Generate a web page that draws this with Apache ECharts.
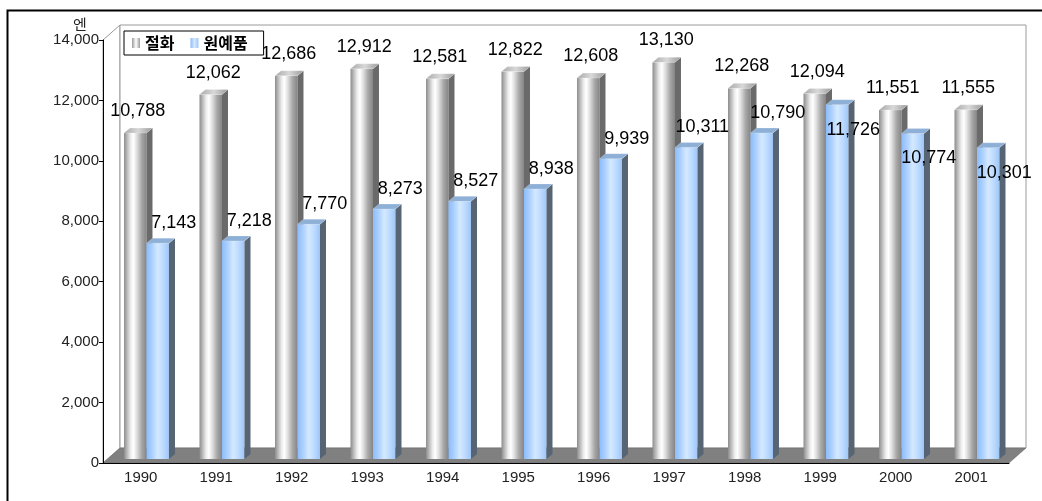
<!DOCTYPE html>
<html><head><meta charset="utf-8">
<script src="https://cdn.jsdelivr.net/npm/echarts@6/dist/echarts.min.js"></script>
<style>html,body{margin:0;padding:0;background:#fff}#c{width:1042px;height:501px}</style>
</head><body><div id="c"></div>
<script>
// ---- data ----
const years = ['1990','1991','1992','1993','1994','1995','1996','1997','1998','1999','2000','2001'];
const cutFlowers = [10788,12062,12686,12912,12581,12822,12608,13130,12268,12094,11551,11555];
const horticulture = [7143,7218,7770,8273,8527,8938,9939,10311,10790,11726,10774,10301];
const seriesNames = ['절화','원예품'];
const yUnit = '엔';
const yMin = 0, yMax = 14000, yStep = 2000;

// ---- styling ----
const WALL_DX = 17, WALL_DY = 15;
const BAR_DX = 0, BAR_DY = 4;
const SIDE_DX = 6, SIDE_DY = 5;
const LG = echarts.graphic.LinearGradient;
const silverFront = new LG(0,0,1,0,[
  {offset:0,color:'#8c8c8c'},{offset:0.12,color:'#b4b4b4'},{offset:0.3,color:'#eeeeee'},
  {offset:0.42,color:'#ffffff'},{offset:0.58,color:'#dcdcdc'},{offset:0.78,color:'#a8a8a8'},{offset:1,color:'#858585'}]);
const blueFront = new LG(0,0,1,0,[
  {offset:0,color:'#8bbcfb'},{offset:0.25,color:'#acd0ff'},{offset:0.5,color:'#d4e9ff'},
  {offset:0.75,color:'#bcdaff'},{offset:1,color:'#9ec6f6'}]);
const styles = [
  {front: silverFront, side:'#6a6a6a', top: new LG(0,0,1,0,[{offset:0,color:'#a8a8a8'},{offset:0.5,color:'#d8d8d8'},{offset:1,color:'#9a9a9a'}]), legend: new LG(0,0,1,0,[{offset:0,color:'#9a9a9a'},{offset:0.5,color:'#ffffff'},{offset:1,color:'#9a9a9a'}])},
  {front: blueFront, side:'#566474', top:'#8eb0d6', legend: new LG(0,0,1,0,[{offset:0,color:'#8bbcfb'},{offset:0.5,color:'#d4e9ff'},{offset:1,color:'#9ec6f6'}])}
];
const fmt = v => Number(v).toLocaleString('en-US');
const LABEL_FONT = '18px "Liberation Sans", Arial, sans-serif';

function barRender(slot){
  return function(params, api){
    const i = api.value(0), v = api.value(1), other = api.value(2);
    const base = api.coord([i, 0]), top = api.coord([i, v]);
    const band = api.size([1, 0])[0];
    const w = band * 0.298;
    const x0 = base[0] - band * 0.222 + slot * w + BAR_DX;
    const yb = base[1] - BAR_DY, yt = top[1] - BAR_DY;
    const st = styles[slot];
    let lx, ly;
    if (slot === 0) { lx = base[0] - 3; ly = yt - 22; }
    else {
      lx = base[0] + 33;
      ly = (other - v < 1300) ? yt + 25 : yt - 20;
    }
    return {
      type:'group',
      children:[
        {type:'rect', shape:{x:x0, y:yt, width:w, height:yb-yt}, style:{fill:st.front}},
        {type:'polygon', shape:{points:[[x0+w,yt],[x0+w+SIDE_DX,yt-SIDE_DY],[x0+w+SIDE_DX,yb-SIDE_DY],[x0+w,yb]]}, style:{fill:st.side}},
        {type:'polygon', shape:{points:[[x0,yt],[x0+SIDE_DX,yt-SIDE_DY],[x0+w+SIDE_DX,yt-SIDE_DY],[x0+w,yt]]}, style:{fill:st.top, stroke:'rgba(255,255,255,0.4)', lineWidth:0.5}},
        {type:'text', z2:100, style:{text:fmt(v), x:lx, y:ly, align:'center', verticalAlign:'middle', font:LABEL_FONT, fill:'#000'}}
      ]
    };
  };
}

function frameRender(params, api){
  const cs = params.coordSys;
  const gx = cs.x, gy = cs.y, gw = cs.width, gh = cs.height;
  const bx = gx + WALL_DX, by = gy - WALL_DY;
  return {
    type:'group',
    children:[
      {type:'polygon', shape:{points:[[gx,gy],[bx,by],[bx,by+gh],[gx,gy+gh]]}, style:{fill:'#fff', stroke:'#9a9a9a', lineWidth:1}},
      {type:'rect', shape:{x:bx, y:by, width:gw, height:gh}, style:{fill:'#fff', stroke:'#9a9a9a', lineWidth:1}},
      {type:'polygon', shape:{points:[[gx,gy+gh],[gx+gw,gy+gh],[bx+gw,by+gh],[bx,by+gh]]}, style:{fill:'#808080', stroke:'#6a6a6a', lineWidth:0.5}}
    ]
  };
}

const chart = echarts.init(document.getElementById('c'), null, {renderer:'canvas'});
chart.setOption({
  animation:false,
  backgroundColor:'#fff',
  grid:{left:103, right:33, top:40, bottom:38},
  legend:{
    left:124, top:31, orient:'horizontal',
    padding:[4,16,4,8], itemGap:16, itemWidth:8, itemHeight:10, icon:'rect',
    borderColor:'#000', borderWidth:1, backgroundColor:'#fff',
    textStyle:{fontFamily:'"Noto Sans CJK KR", sans-serif', fontWeight:'bold', fontSize:16, color:'#000'},
    data:seriesNames
  },
  xAxis:{
    type:'category', data:years, boundaryGap:true,
    axisLine:{lineStyle:{color:'#000', width:1}},
    axisTick:{inside:true, length:5, lineStyle:{color:'#000'}},
    axisLabel:{color:'#222', fontSize:15, fontFamily:'"Liberation Sans", Arial, sans-serif', margin:7}
  },
  yAxis:{
    type:'value', min:yMin, max:yMax, interval:yStep,
    axisLine:{show:true, lineStyle:{color:'#000', width:1}},
    axisTick:{show:true, length:4, lineStyle:{color:'#000'}},
    splitLine:{show:false},
    axisLabel:{color:'#222', fontSize:15, fontFamily:'"Liberation Sans", Arial, sans-serif', margin:4, formatter:fmt}
  },
  graphic:[
    {type:'rect', left:5, top:8, z:-10, silent:true, shape:{width:1200, height:700}, style:{fill:null, stroke:'#000', lineWidth:2}},
    {type:'text', x:80, y:24, z:10, style:{text:yUnit, align:'center', verticalAlign:'middle', font:'15px "Noto Sans CJK KR", sans-serif', fill:'#222'}}
  ],
  series:[
    {type:'custom', name:'frame', z:-1, silent:true, renderItem:frameRender, data:[[0,0]], encode:{x:0,y:1}, tooltip:{show:false}},
    {type:'custom', name:seriesNames[0], z:2, renderItem:barRender(0), itemStyle:{color:styles[0].legend},
     data:years.map((y,i)=>[i, cutFlowers[i], horticulture[i]]), encode:{x:0, y:1}},
    {type:'custom', name:seriesNames[1], z:3, renderItem:barRender(1), itemStyle:{color:styles[1].legend},
     data:years.map((y,i)=>[i, horticulture[i], cutFlowers[i]]), encode:{x:0, y:1}}
  ]
});
</script></body></html>
